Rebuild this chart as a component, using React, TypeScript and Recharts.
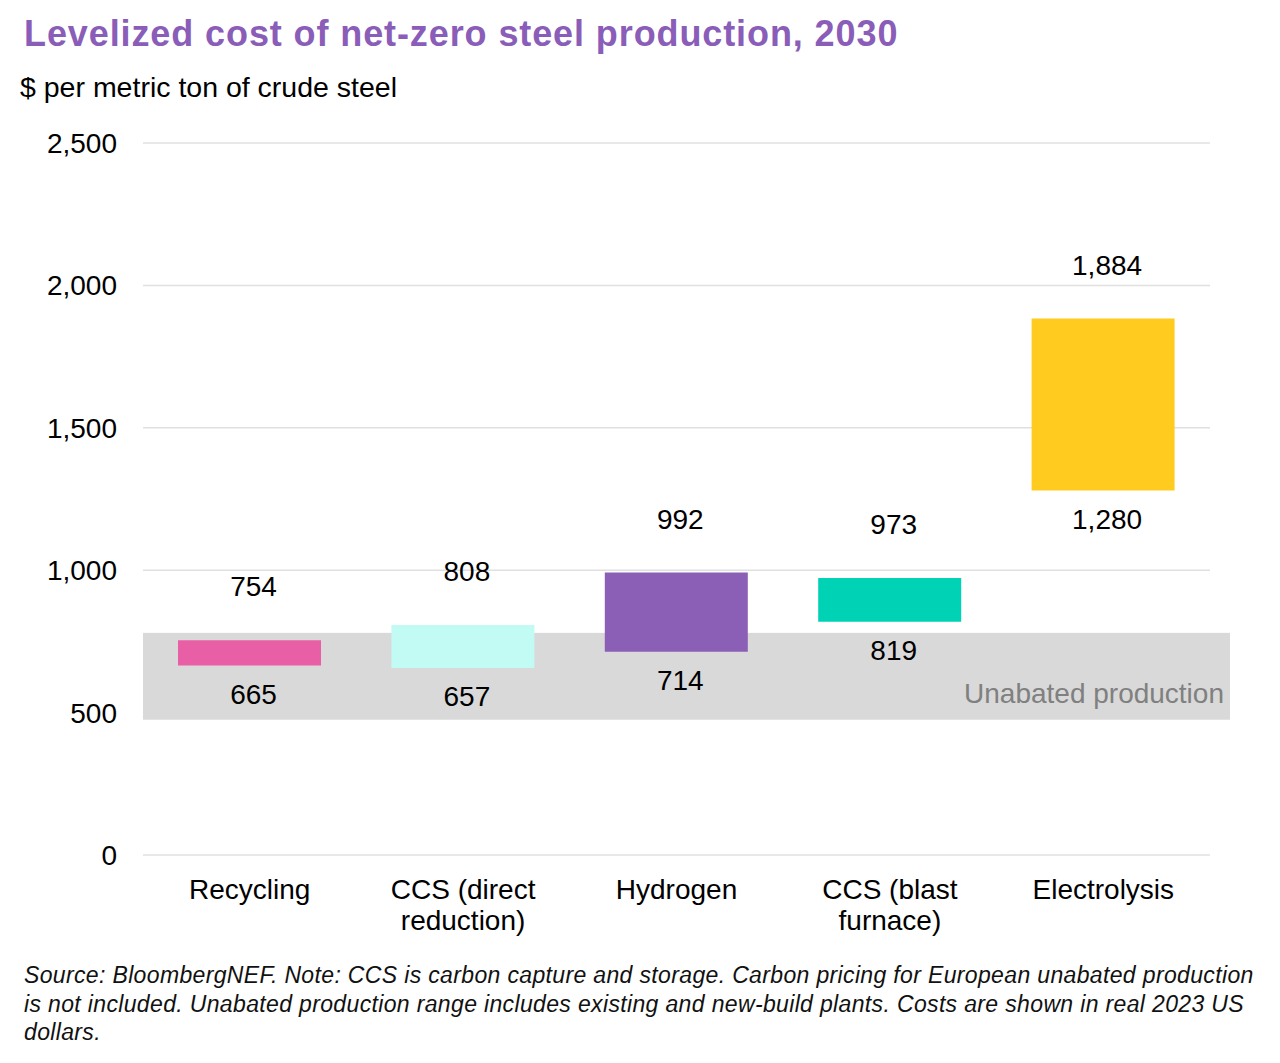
import React from "react";
import {
    BarChart,
    Bar,
    XAxis,
    YAxis,
    CartesianGrid,
    ReferenceArea,
    LabelList,
    Cell,
} from "recharts";

// Chart values
const categories = [
    "Recycling",
    "CCS (direct\nreduction)",
    "Hydrogen",
    "CCS (blast\nfurnace)",
    "Electrolysis",
];
const lowValues = [665, 657, 714, 819, 1280];
const highValues = [754, 808, 992, 973, 1884];
const barColors = ["#E95FA6", "#C2FBF3", "#8B5FB5", "#00D3B5", "#FFCB1F"];
const yTicks = [0, 500, 1000, 1500, 2000, 2500];
const unabatedRange = [475, 780];

const FONT = '"Liberation Sans", Arial, Helvetica, sans-serif';

const chartData = categories.map((name, i) => ({
    name,
    range: [lowValues[i], highValues[i]],
    low: lowValues[i],
    high: highValues[i],
}));

const fmt = (v: number) => Number(v).toLocaleString("en-US");

// value above the top of each floating bar
const TopLabel = (props: any) => {
    const { x, y, width, height, value } = props;
    const top = Math.min(y, y + height);
    return (
        <text
            x={x + width / 2 + 4}
            y={top - 54}
            textAnchor="middle"
            dy="0.36em"
            fontSize={28}
            fontFamily={FONT}
            fill="#000"
        >
            {fmt(value)}
        </text>
    );
};

// value below the bottom of each floating bar
const BottomLabel = (props: any) => {
    const { x, y, width, height, value } = props;
    const bottom = Math.max(y, y + height);
    return (
        <text
            x={x + width / 2 + 4}
            y={bottom + 28}
            textAnchor="middle"
            dy="0.36em"
            fontSize={28}
            fontFamily={FONT}
            fill="#000"
        >
            {fmt(value)}
        </text>
    );
};

// category names can break onto two lines
const CategoryTick = (props: any) => {
    const { x, y, payload } = props;
    const lines = String(payload.value).split("\n");
    return (
        <text x={x} y={y} textAnchor="middle" fontSize={28} fontFamily={FONT} fill="#000">
            {lines.map((line, i) => (
                <tspan key={i} x={x} dy={i === 0 ? 36 : 31}>
                    {line}
                </tspan>
            ))}
        </text>
    );
};

// grey band for unabated production, runs a little past the grid on the right
const BandShape = (props: any) => {
    const { x, y, width, height } = props;
    return (
        <g>
            <rect x={x} y={y} width={width + 20} height={height} fill="#D9D9D9" />
            <text
                x={x + width + 14}
                y={y + height - 27}
                textAnchor="end"
                dy="0.36em"
                fontSize={28}
                fontFamily={FONT}
                fill="#808080"
            >
                Unabated production
            </text>
        </g>
    );
};

export default function App() {
    return (
        <div
            style={{
                position: "absolute",
                left: 0,
                top: 0,
                width: 1280,
                height: 1063,
                background: "#fff",
                fontFamily: FONT,
                overflow: "hidden",
            }}
        >
            <div style={{ position: "absolute", left: 0, top: 0 }}>
                <BarChart
                    width={1280}
                    height={960}
                    data={chartData}
                    margin={{ top: 143, right: 70, bottom: 0, left: 0 }}
                >
                    <CartesianGrid vertical={false} stroke="#E0E0E0" strokeWidth={1.5} />
                    <XAxis
                        dataKey="name"
                        axisLine={false}
                        tickLine={false}
                        interval={0}
                        height={105}
                        tick={<CategoryTick />}
                    />
                    <YAxis
                        width={143}
                        domain={[0, 2500]}
                        ticks={yTicks}
                        axisLine={false}
                        tickLine={false}
                        tickMargin={20}
                        tickFormatter={fmt}
                        tick={{ fontSize: 28, fill: "#000", fontFamily: FONT }}
                    />
                    <ReferenceArea
                        y1={unabatedRange[0]}
                        y2={unabatedRange[1]}
                        ifOverflow="visible"
                        shape={BandShape}
                    />
                    <Bar dataKey="range" barSize={143} isAnimationActive={false}>
                        {chartData.map((d, i) => (
                            <Cell key={d.name} fill={barColors[i]} />
                        ))}
                        <LabelList dataKey="high" content={TopLabel} />
                        <LabelList dataKey="low" content={BottomLabel} />
                    </Bar>
                </BarChart>
            </div>

            <div
                style={{
                    position: "absolute",
                    left: 24,
                    top: 16,
                    fontSize: 36,
                    lineHeight: "36px",
                    fontWeight: 700,
                    letterSpacing: 0.9,
                    color: "#8A5DB8",
                    whiteSpace: "nowrap",
                }}
            >
                Levelized cost of net-zero steel production, 2030
            </div>
            <div
                style={{
                    position: "absolute",
                    left: 20,
                    top: 73,
                    fontSize: 28.5,
                    lineHeight: "28.5px",
                    color: "#000",
                    whiteSpace: "nowrap",
                }}
            >
                $ per metric ton of crude steel
            </div>
            <div
                style={{
                    position: "absolute",
                    left: 24,
                    top: 961,
                    fontSize: 23,
                    lineHeight: "28.7px",
                    letterSpacing: 0.35,
                    fontStyle: "italic",
                    color: "#111",
                    whiteSpace: "nowrap",
                }}
            >
                <div>
                    Source: BloombergNEF. Note: CCS is carbon capture and storage. Carbon pricing for
                    European unabated production
                </div>
                <div>
                    is not included. Unabated production range includes existing and new-build plants.
                    Costs are shown in real 2023 US
                </div>
                <div>dollars.</div>
            </div>
        </div>
    );
}
